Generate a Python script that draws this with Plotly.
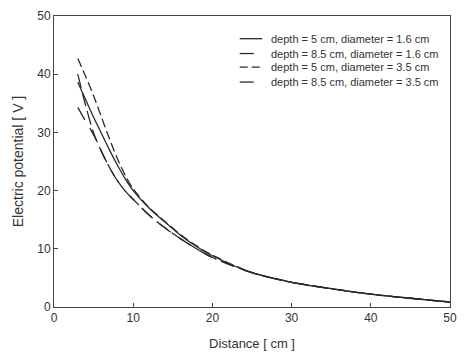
import plotly.graph_objects as go

distance = [3, 4, 5, 6, 7, 8, 9, 10, 12, 14, 16, 18, 20, 25, 30, 35, 40, 45, 50]
tail = [5.9, 4.25, 3.15, 2.2, 1.5, 0.85]

s1 = [38.6, 35.6, 32.6, 29.8, 27.0, 24.4, 22.0, 20.0, 17.0, 14.6, 12.3, 10.4, 8.8] + tail
s2 = [40.0, 34.6, 29.9, 26.7, 24.0, 21.7, 19.9, 18.5, 15.8, 13.6, 11.7, 10.0, 8.5] + tail
s3 = [42.7, 39.6, 36.3, 32.6, 28.9, 25.5, 22.6, 20.3, 17.1, 14.7, 12.4, 10.5, 8.9] + tail
s4 = [34.3, 31.9, 29.6, 26.7, 24.0, 21.7, 19.9, 18.5, 15.8, 13.6, 11.7, 10.0, 8.5] + tail

names = [
    "depth = 5 cm, diameter = 1.6 cm",
    "depth = 8.5 cm, diameter = 1.6 cm",
    "depth = 5 cm, diameter = 3.5 cm",
    "depth = 8.5 cm, diameter = 3.5 cm",
]
series = [s1, s2, s3, s4]
dashes = ["solid", "14px,5px", "9px,4px", "14px,10px"]
legend_dashes = ["solid", "14px,20px", "8px,4px", "14px,20px"]

line_color = "#2a2a2a"
fig = go.Figure()
for nm, ys, d in zip(names, series, dashes):
    fig.add_trace(go.Scatter(x=distance, y=ys, mode="lines", name=nm, showlegend=False,
                             line=dict(color=line_color, width=1.3, dash=d, shape="spline",
                                       smoothing=0.8)))

# hand-drawn legend (compact spacing like the original)
leg_y = [0.922, 0.871, 0.824, 0.773]
for nm, ld, yy in zip(names, legend_dashes, leg_y):
    fig.add_shape(type="line", xref="paper", yref="paper", x0=0.469, x1=0.526, y0=yy, y1=yy,
                  line=dict(color=line_color, width=1.3, dash=ld))
    fig.add_annotation(xref="paper", yref="paper", x=0.543, y=yy, text=nm, showarrow=False,
                       xanchor="left", yanchor="middle",
                       font=dict(family="Liberation Sans, Arial", size=11, color="#333"))

axis_common = dict(showline=True, linecolor="#444", linewidth=1, mirror=True,
                   ticks="inside", ticklen=4, tickcolor="#444", showgrid=False,
                   zeroline=False, tickfont=dict(family="Liberation Sans, Arial", size=12, color="#333"))

fig.update_layout(
    width=466, height=358,
    margin=dict(l=54, r=9, t=12, b=51),
    paper_bgcolor="white", plot_bgcolor="white",
    font=dict(family="Liberation Sans, Arial", size=12, color="#333"),
    xaxis=dict(range=[0, 50], dtick=10,
               title=dict(text="Distance [ cm ]", font=dict(size=13), standoff=14), **axis_common),
    yaxis=dict(range=[0, 50], dtick=10,
               title=dict(text="Electric potential [ V ]", font=dict(size=14), standoff=10), **axis_common),
    showlegend=False,
)

fig.write_html("out.html")
